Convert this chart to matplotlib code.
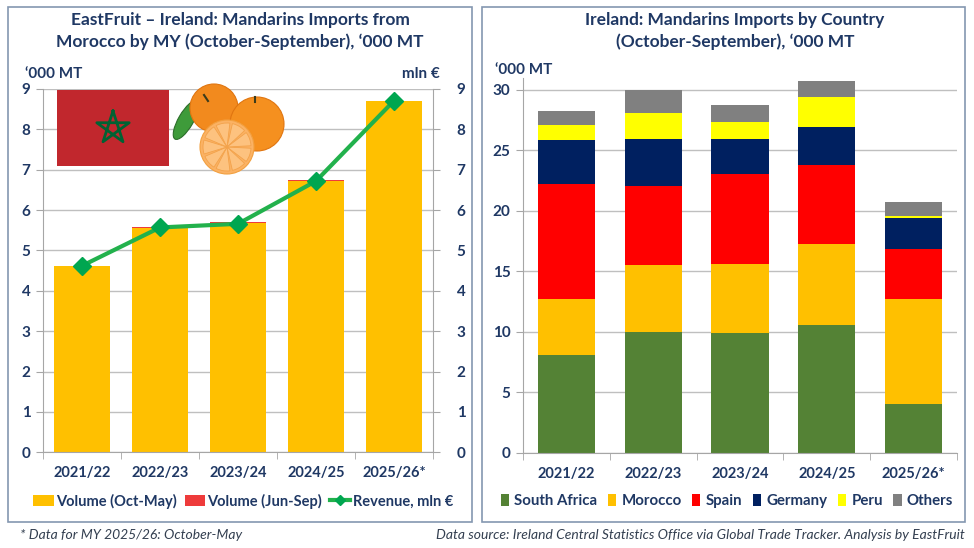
import numpy as np
import matplotlib
matplotlib.use("Agg")
import matplotlib.pyplot as plt
from matplotlib.patches import Rectangle, Circle, Ellipse, Wedge
from matplotlib.lines import Line2D

plt.rcParams['font.family'] = ['Lato', 'DejaVu Sans']

years = ["2021/22", "2022/23", "2023/24", "2024/25", "2025/26*"]

# left chart: imports from Morocco
vol_oct_may = [4.62, 5.56, 5.68, 6.73, 8.70]
vol_jun_sep = [0.0, 0.01, 0.02, 0.02, 0.0]
revenue = [4.62, 5.57, 5.66, 6.72, 8.71]

# right chart: imports by country
countries = ["South Africa", "Morocco", "Spain", "Germany", "Peru", "Others"]
south_africa = [8.1, 10.0, 9.87, 10.56, 4.03]
morocco = [4.64, 5.55, 5.70, 6.73, 8.66]
spain = [9.46, 6.54, 7.48, 6.51, 4.16]
germany = [3.70, 3.88, 2.92, 3.16, 2.59]
peru = [1.20, 2.10, 1.41, 2.49, 0.14]
others = [1.16, 1.93, 1.38, 1.32, 1.18]

navy = "#1F3864"
grid_c = "#BFBFBF"
W, H = 974, 548

fig = plt.figure(figsize=(W / 100, H / 100), dpi=100)
fig.patch.set_facecolor("white")


def style_axis(ax):
    ax.set_xlim(-0.5, 4.5)
    ax.set_xticks(range(5))
    ax.set_xticklabels(years)
    ax.set_xticks(np.arange(-0.5, 5, 1), minor=True)
    ax.tick_params(axis="x", which="major", length=0, pad=10,
                   labelsize=10.5, labelcolor=navy)
    ax.tick_params(axis="x", which="minor", length=5, color="#A6A6A6")
    ax.tick_params(axis="y", length=5, color="#A6A6A6", labelsize=11,
                   labelcolor=navy, pad=4)
    for lab in ax.get_xticklabels() + ax.get_yticklabels():
        lab.set_fontweight("bold")
    ax.grid(axis="y", color=grid_c, lw=1)
    ax.set_axisbelow(True)
    ax.spines["top"].set_visible(False)
    ax.spines["right"].set_visible(False)
    ax.spines["left"].set_color("#A6A6A6")
    ax.spines["bottom"].set_color("#A6A6A6")


# ---------- left chart ----------
ax1 = fig.add_axes([43 / W, 1 - 452.3 / H, 390 / W, 363.3 / H])
x = np.arange(len(years))
ax1.bar(x, vol_oct_may, width=0.71, color="#FFC000", label="Volume (Oct-May)")
ax1.bar(x, vol_jun_sep, width=0.71, bottom=vol_oct_may, color="#EE3B3B",
        label="Volume (Jun-Sep)")
ax1.set_ylim(0, 9)
ax1.set_yticks(range(10))
style_axis(ax1)

ax1r = ax1.twinx()
ax1r.plot(x, revenue, color="#22B14C", lw=3, marker="D", ms=9,
          mfc="#00A650", mec="#00A650")
ax1r.set_ylim(0, 9)
ax1r.set_yticks(range(10))
ax1r.tick_params(axis="y", length=5, color="#A6A6A6", labelsize=11,
                 labelcolor=navy, pad=12)
for lab in ax1r.get_yticklabels():
    lab.set_fontweight("bold")
for s in ["top", "left", "bottom"]:
    ax1r.spines[s].set_visible(False)
ax1r.spines["right"].set_color("#A6A6A6")

h1, l1 = ax1.get_legend_handles_labels()
rev_handle = Line2D([], [], color="#22B14C", lw=3, marker="D", ms=5,
                    mfc="#00A650", mec="#00A650")
fig.legend(h1 + [rev_handle], l1 + ["Revenue, mln €"], loc="center",
           bbox_to_anchor=(243 / W, 1 - 501 / H),
           ncol=3, frameon=False, handlelength=1.4, handleheight=0.7,
           handletextpad=0.15, columnspacing=0.55, labelcolor=navy,
           prop={"weight": "bold", "size": 10.5})

# ---------- right chart ----------
ax2 = fig.add_axes([523 / W, 1 - 452.7 / H, 434 / W, 374.8 / H])
series = [south_africa, morocco, spain, germany, peru, others]
colors = ["#548235", "#FFC000", "#FF0000", "#002060", "#FFFF00", "#808080"]
bottom = np.zeros(len(years))
for name, vals, c in zip(countries, series, colors):
    ax2.bar(x, vals, width=0.66, bottom=bottom, color=c, label=name)
    bottom += np.array(vals)
ax2.set_ylim(0, 31)
ax2.set_yticks(range(0, 31, 5))
style_axis(ax2)
ax2.legend(loc="center", bbox_to_anchor=(727 / W, 1 - 501 / H),
           bbox_transform=fig.transFigure, ncol=6, frameon=False,
           handlelength=0.55, handleheight=0.8, handletextpad=0.35,
           columnspacing=0.7, labelcolor=navy,
           prop={"weight": "bold", "size": 10.8})

# ---------- titles and notes ----------
fig.text(240 / W, 1 - 31 / H,
         "EastFruit – Ireland: Mandarins Imports from\nMorocco by MY (October-September), ‘000 MT",
         ha="center", va="center", fontsize=12.5, fontweight="bold", color=navy,
         linespacing=1.35)
fig.text(735 / W, 1 - 31 / H,
         "Ireland: Mandarins Imports by Country\n(October-September), ‘000 MT",
         ha="center", va="center", fontsize=12.5, fontweight="bold", color=navy,
         linespacing=1.35)
fig.text(25 / W, 1 - 74 / H, "‘000 MT", ha="left", va="center", fontsize=11,
         fontweight="bold", color=navy)
fig.text(440 / W, 1 - 74 / H, "mln €", ha="right", va="center", fontsize=11,
         fontweight="bold", color=navy)
fig.text(495 / W, 1 - 70 / H, "‘000 MT", ha="left", va="center", fontsize=11,
         fontweight="bold", color=navy)
fig.text(20 / W, 1 - 535 / H, "* Data for MY 2025/26: October-May", ha="left",
         va="center", fontsize=10, style="italic", color="#333F50")
fig.text(965 / W, 1 - 535 / H,
         "Data source: Ireland Central Statistics Office via Global Trade Tracker. Analysis by EastFruit",
         ha="right", va="center", fontsize=10, style="italic", color="#333F50")

# ---------- decoration overlay (pixel coords) ----------
deco = fig.add_axes([0, 0, 1, 1], zorder=10)
deco.set_xlim(0, W)
deco.set_ylim(H, 0)
deco.axis("off")
deco.patch.set_alpha(0)

# panel frames
deco.add_patch(Rectangle((8, 7), 464, 515, fill=False, ec="#8497B0", lw=1.2))
deco.add_patch(Rectangle((482, 7), 483, 515, fill=False, ec="#8497B0", lw=1.2))

# Moroccan flag
deco.add_patch(Rectangle((57, 90), 112, 76, fc="#C1272D", ec="none"))
cx, cy, r = 113, 128, 17
ang = np.pi / 2 + np.arange(5) * 2 * np.pi / 5
pts = [(cx + r * np.cos(a), cy - r * np.sin(a)) for a in ang]
order = [0, 2, 4, 1, 3, 0]
deco.plot([pts[i][0] for i in order], [pts[i][1] for i in order],
          color="#006233", lw=2)

# mandarins
deco.add_patch(Ellipse((186, 120), 44, 15, angle=-60, fc="#3E9B3A", ec="#2C6E2A", lw=0.8))
deco.add_patch(Circle((214, 108), 24, fc="#F28A1E", ec="#E07510", lw=0.8))
deco.add_patch(Circle((257, 124), 27, fc="#F5901F", ec="#E07510", lw=0.8))
deco.add_patch(Circle((227, 147), 27, fc="#FBB264", ec="#F2A040", lw=0.8))
for a in range(0, 360, 40):
    deco.add_patch(Wedge((227, 147), 24, a + 3, a + 37, fc="#FDC27F", ec="#F3A24A", lw=0.6))
deco.plot([204, 208], [95, 101], color="#3B3B1B", lw=1.5)
deco.plot([255, 255], [97, 102], color="#3B3B1B", lw=1.5)

fig.savefig("out.png", dpi=100)
